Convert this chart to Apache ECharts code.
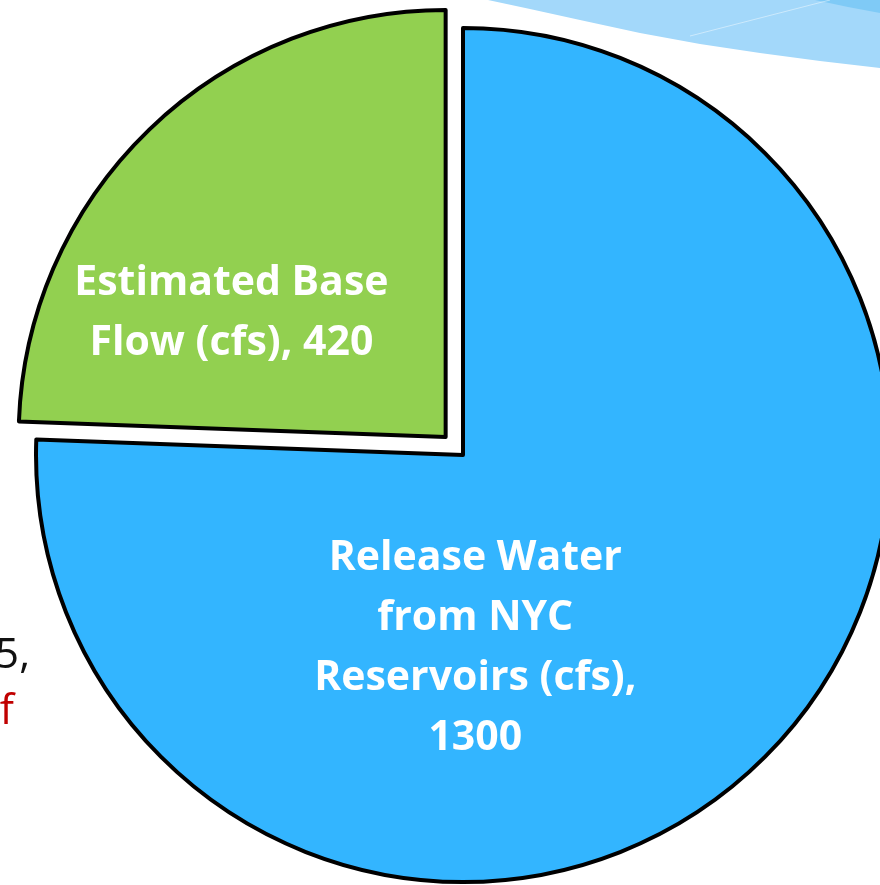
<!DOCTYPE html>
<html>
<head>
<meta charset="utf-8">
<script src="https://cdn.jsdelivr.net/npm/echarts@6/dist/echarts.min.js"></script>
<style>
html,body{margin:0;padding:0;background:#fff;}
#chart{width:880px;height:885px;}
</style>
</head>
<body>
<div id="chart"></div>
<script>
// Data
const categories = ['Release Water from NYC Reservoirs (cfs)', 'Estimated Base Flow (cfs)'];
const values = [1300, 420];
const labelTexts = ['Release Water\nfrom NYC\nReservoirs (cfs),\n1300', 'Estimated Base\nFlow (cfs), 420'];
const colors = ['#33b5ff', '#92d050'];

const chart = echarts.init(document.getElementById('chart'), null, {renderer: 'canvas'});

const labelShift = [[-138, 37], [-64, 32]];

const option = {
  animation: false,
  backgroundColor: '#ffffff',
  graphic: [
    {
      type: 'polygon',
      shape: {points: [[488,0],[530,9],[580,20],[640,33],[700,44],[760,53],[820,61],[880,68],[880,0]]},
      style: {fill: '#a3d8fa'},
      z: -1
    },
    {
      type: 'polygon',
      shape: {points: [[815,0],[848,7],[880,13],[880,0]]},
      style: {fill: '#7fcaf6'},
      z: -1
    },
    {
      type: 'line',
      shape: {x1: 690, y1: 36, x2: 830, y2: 0},
      style: {stroke: 'rgba(255,255,255,0.45)', lineWidth: 1},
      z: -1
    },
    {
      type: 'text',
      x: 30, y: 656,
      style: {text: '5,', fill: '#111111', font: '42px "Open Sans"', align: 'right', verticalAlign: 'middle'}
    },
    {
      type: 'text',
      x: 14, y: 712,
      style: {text: 'f', fill: '#c00000', font: '42px "Open Sans"', align: 'right', verticalAlign: 'middle'}
    }
  ],
  series: [{
    type: 'pie',
    center: [463, 455],
    radius: 427,
    startAngle: 90,
    clockwise: true,
    selectedMode: 'single',
    selectedOffset: 25,
    avoidLabelOverlap: false,
    emphasis: {disabled: true},
    itemStyle: {borderColor: '#000', borderWidth: 4},
    label: {
      show: true,
      position: 'inside',
      color: '#ffffff',
      fontFamily: '"Open Sans"',
      fontWeight: 'bold',
      fontSize: 41,
      lineHeight: 60,
      align: 'center',
      formatter: p => labelTexts[p.dataIndex]
    },
    labelLine: {show: false},
    labelLayout: p => ({dx: labelShift[p.dataIndex][0], dy: labelShift[p.dataIndex][1]}),
    data: categories.map((c, i) => ({
      name: c,
      value: values[i],
      selected: i === 1,
      itemStyle: {color: colors[i]}
    }))
  }]
};
chart.setOption(option);
</script>
</body>
</html>
